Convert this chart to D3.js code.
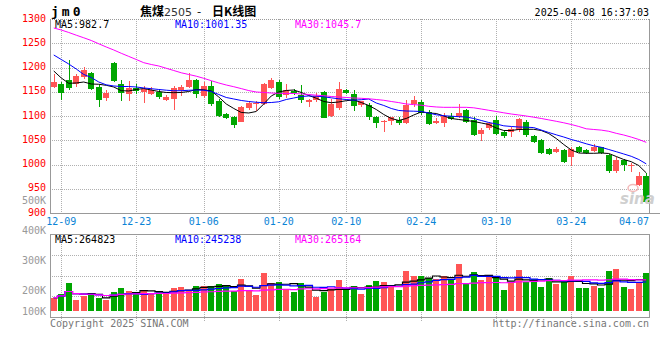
<!DOCTYPE html>
<html>
<head>
<meta charset="utf-8">
<script src="https://cdn.jsdelivr.net/npm/d3@7"></script>
<style>
  body { margin: 0; background: #fff; }
  svg { display: block; font-family: "DejaVu Sans Mono", "Liberation Mono", monospace; }
</style>
</head>
<body>
<svg id="chart" width="660" height="360"></svg>
<script>
// trading days shown on the chart
var dates = [
  "12-06", "12-09", "12-10", "12-11", "12-12", "12-13", "12-16", "12-17", "12-18", "12-19", "12-20",
  "12-23", "12-24", "12-25", "12-26", "12-27", "12-30", "12-31", "01-02", "01-03",
  "01-06", "01-07", "01-08", "01-09", "01-10", "01-13", "01-14", "01-15", "01-16", "01-17",
  "01-20", "01-21", "01-22", "01-23", "01-24", "01-27", "02-05", "02-06", "02-07",
  "02-10", "02-11", "02-12", "02-13", "02-14", "02-17", "02-18", "02-19", "02-20", "02-21",
  "02-24", "02-25", "02-26", "02-27", "02-28", "03-03", "03-04", "03-05", "03-06", "03-07",
  "03-10", "03-11", "03-12", "03-13", "03-14", "03-17", "03-18", "03-19", "03-20", "03-21",
  "03-24", "03-25", "03-26", "03-27", "03-28", "03-31", "04-01", "04-02", "04-03", "04-07", "04-08"
];

var opens = [
  1160, 1167, 1174, 1165, 1181, 1188, 1160, 1138, 1210, 1165,
  1145, 1157, 1149, 1145, 1150, 1132, 1134, 1153, 1160, 1174,
  1141, 1162, 1131, 1104, 1097, 1089, 1117, 1123, 1124, 1158,
  1170, 1143, 1152, 1143, 1129, 1132, 1150, 1100, 1116, 1154,
  1145, 1121, 1123, 1097, 1088, 1088, 1092, 1086, 1123, 1128,
  1109, 1085, 1086, 1099, 1097, 1112, 1092, 1062, 1075, 1092,
  1068, 1066, 1071, 1088, 1059, 1051, 1032, 1026, 1030, 1014,
  1037, 1030, 1028, 1036, 1020, 987, 1009, 999, 958, 976
];
var highs = [
  1186, 1170, 1215, 1187, 1201, 1190, 1163, 1153, 1212, 1175,
  1172, 1166, 1162, 1160, 1155, 1143, 1162, 1164, 1189, 1176,
  1171, 1172, 1135, 1106, 1100, 1121, 1131, 1130, 1168, 1179,
  1174, 1165, 1155, 1164, 1136, 1147, 1152, 1136, 1171, 1156,
  1154, 1131, 1126, 1099, 1092, 1097, 1097, 1132, 1141, 1134,
  1112, 1095, 1106, 1106, 1125, 1114, 1097, 1075, 1088, 1099,
  1071, 1078, 1095, 1092, 1061, 1052, 1034, 1037, 1032, 1037,
  1038, 1032, 1042, 1037, 1021, 1015, 1011, 1004, 985, 983
];
var lows = [
  1158, 1133, 1153, 1160, 1177, 1153, 1119, 1131, 1170, 1131,
  1131, 1145, 1127, 1143, 1136, 1131, 1112, 1141, 1158, 1138,
  1138, 1121, 1097, 1093, 1075, 1087, 1113, 1110, 1122, 1156,
  1136, 1138, 1144, 1126, 1119, 1129, 1095, 1098, 1112, 1146,
  1111, 1119, 1092, 1075, 1068, 1082, 1082, 1084, 1118, 1103,
  1082, 1083, 1078, 1091, 1095, 1085, 1059, 1049, 1072, 1061,
  1054, 1056, 1068, 1056, 1045, 1022, 1019, 1023, 1004, 997,
  1024, 1022, 1026, 1022, 983, 983, 987, 985, 956, 921
];
var closes = [
  1170, 1148, 1158, 1182, 1195, 1156, 1134, 1148, 1172, 1147,
  1158, 1151, 1155, 1153, 1140, 1139, 1157, 1160, 1174, 1146,
  1162, 1124, 1100, 1095, 1080, 1119, 1127, 1126, 1165, 1175,
  1139, 1153, 1147, 1132, 1134, 1141, 1097, 1125, 1155, 1148,
  1121, 1130, 1099, 1084, 1090, 1097, 1085, 1123, 1132, 1106,
  1085, 1090, 1100, 1093, 1106, 1088, 1061, 1071, 1085, 1063,
  1059, 1073, 1094, 1061, 1047, 1024, 1022, 1032, 1006, 1031,
  1026, 1024, 1037, 1024, 987, 1009, 999, 1000, 976, 923
];

// moving averages
var ma5 = [
  1192.8, 1178.4, 1167.4, 1168.1, 1170.1, 1166.0, 1165.4, 1163.3, 1159.8, 1152.2,
  1151.6, 1154.7, 1156.7, 1153.6, 1150.5, 1148.5, 1148.1, 1148.5, 1150.5, 1154.7,
  1154.0, 1151.6, 1139.2, 1124.8, 1115.5, 1107.3, 1106.2, 1109.3, 1124.8, 1141.3,
  1149.5, 1152.6, 1153.6, 1148.5, 1142.3, 1136.7, 1129.9, 1127.4, 1128.9, 1131.6,
  1133.0, 1127.8, 1121.7, 1113.4, 1103.1, 1094.9, 1090.8, 1094.9, 1102.1, 1108.3,
  1106.2, 1105.2, 1100.0, 1094.9, 1092.8, 1090.8, 1088.7, 1085.6, 1082.5, 1075.3,
  1070.1, 1070.1, 1072.2, 1072.6, 1072.6, 1070.1, 1063.9, 1053.6, 1041.2, 1029.9,
  1023.7, 1023.1, 1023.1, 1023.7, 1022.7, 1016.5, 1010.3, 1005.8, 997.9, 982.7
];
var ma10 = [
  1225.8, 1216.5, 1207.2, 1196.9, 1185.6, 1179.4, 1170.1, 1164.3, 1161.9, 1160.8,
  1160.8, 1159.8, 1157.8, 1156.3, 1154.7, 1153.2, 1152.0, 1152.2, 1153.0, 1153.6,
  1153.2, 1150.5, 1144.3, 1138.2, 1135.1, 1132.0, 1129.9, 1128.3, 1127.4, 1127.8,
  1129.3, 1134.0, 1137.1, 1140.2, 1141.3, 1140.8, 1139.6, 1137.5, 1135.5, 1134.0,
  1132.6, 1133.6, 1135.1, 1126.8, 1121.7, 1115.5, 1111.4, 1110.3, 1109.9, 1109.3,
  1106.2, 1102.5, 1100.6, 1099.6, 1098.6, 1098.0, 1094.9, 1090.8, 1086.6, 1083.5,
  1079.8, 1078.4, 1077.3, 1076.9, 1076.1, 1071.1, 1066.0, 1061.2, 1056.7, 1051.6,
  1047.4, 1042.7, 1038.5, 1035.5, 1030.9, 1026.4, 1021.7, 1016.9, 1010.3, 1001.35
];
var ma30 = [
  1281.5, 1277.3, 1272.2, 1266.6, 1261.3, 1255.7, 1248.9, 1242.3, 1236.1, 1229.3,
  1222.9, 1216.5, 1209.9, 1206.2, 1203.1, 1198.4, 1193.8, 1189.1, 1185.6, 1182.1,
  1177.7, 1172.8, 1168.1, 1163.9, 1160.4, 1156.5, 1152.4, 1149.5, 1148.5, 1147.4,
  1146.8, 1146.6, 1146.4, 1145.4, 1144.3, 1142.9, 1141.9, 1140.2, 1139.2, 1138.2,
  1137.1, 1136.5, 1135.5, 1134.0, 1132.4, 1129.9, 1127.6, 1124.8, 1123.5, 1122.3,
  1120.0, 1118.6, 1117.9, 1117.9, 1117.9, 1117.9, 1116.9, 1114.4, 1111.8, 1109.3,
  1106.6, 1104.1, 1102.1, 1100.0, 1097.5, 1094.9, 1092.0, 1089.1, 1086.0, 1082.5,
  1078.4, 1073.6, 1072.2, 1070.9, 1068.5, 1064.3, 1060.8, 1056.5, 1051.6, 1045.7
];

var volumes = [
  112700, 144000, 239700, 93000, 127000, 135500, 107600, 93000, 163500, 197000,
  172000, 150000, 178000, 155000, 163500, 144000, 197000, 206000, 178000, 212000,
  212000, 212000, 229000, 212000, 172000, 271000, 178000, 135500, 324000, 240000,
  248000, 186000, 163500, 240000, 178000, 121000, 163500, 190000, 262600, 178000,
  212000, 144000, 220000, 254000, 243000, 212000, 178000, 339000, 296000, 296000,
  282000, 271000, 296000, 268500, 398000, 240000, 328000, 262600, 285000, 296000,
  178000, 248000, 347000, 248000, 271000, 206000, 282000, 229000, 243000, 299000,
  197000, 197000, 212000, 197000, 339000, 356000, 206000, 186000, 243000, 324000
];

var priceTicks = [1300, 1250, 1200, 1150, 1100, 1050, 1000, 950, 900];
var volTickLabels = ["500K", "400K", "300K", "200K", "100K"];
var labelDates = ["12-09", "12-23", "01-06", "01-20", "02-10", "02-24", "03-10", "03-24", "04-07"];
var priceLegend = ["MA5:982.7", "MA10:1001.35", "MA30:1045.7"];
var volLegend = ["MA5:264823", "MA10:245238", "MA30:265164"];

var UP = "#ff5555", DOWN = "#00a600";
var MA_COLORS = ["#000000", "#0000ff", "#ff00ff"];
var FRAME = "#999999", GRID = "#b0b0b0";

var plot = { left: 50, right: 650, top: 19, bottom: 213 };
var vol = { top: 234, bottom: 317, base: 311 };

var svg = d3.select("#chart");

var x = d3.scaleBand().domain(dates).range([plot.left, plot.right]);
var step = x.step();
var bodyW = Math.round(step * 0.8);
function cx(d) { return x(d) + step / 2; }

var y = d3.scaleLinear().domain([900, 1300]).range([plot.bottom, plot.top]);
var yVol = d3.scaleLinear().domain([0, 400000]).range([vol.base, vol.base - 47.2]);
// the K labels of the volume panel sit on their own spacing in the original
var yVolLabel = d3.scaleLinear().domain([5, 2]).range([200, 290.5]);

var g = svg.append("g").attr("shape-rendering", "crispEdges");

// grid
priceTicks.filter(function (t) { return t > 900 && t < 1300; }).forEach(function (t) {
  g.append("line")
    .attr("x1", plot.left).attr("x2", plot.right - 1)
    .attr("y1", Math.round(y(t)) + 0.5).attr("y2", Math.round(y(t)) + 0.5)
    .attr("stroke", GRID).attr("stroke-dasharray", "1,1");
});
[1, 2, 3].forEach(function (k) {
  var yy = Math.round(vol.top + (vol.bottom - vol.top) * k / 4) + 0.5;
  g.append("line")
    .attr("x1", plot.left).attr("x2", plot.right - 1)
    .attr("y1", yy).attr("y2", yy)
    .attr("stroke", GRID).attr("stroke-dasharray", "1,1");
});
labelDates.slice(0, -1).forEach(function (d) {
  var xx = Math.round(cx(d)) + 0.5;
  g.append("line").attr("x1", xx).attr("x2", xx)
    .attr("y1", plot.top).attr("y2", plot.bottom)
    .attr("stroke", GRID).attr("stroke-dasharray", "1,1");
  g.append("line").attr("x1", xx).attr("x2", xx)
    .attr("y1", vol.top).attr("y2", vol.bottom + 4)
    .attr("stroke", GRID).attr("stroke-dasharray", "1,1");
});

// frames
g.append("line").attr("x1", plot.left + 0.5).attr("x2", plot.left + 0.5)
  .attr("y1", plot.top).attr("y2", plot.bottom).attr("stroke", FRAME);
g.append("line").attr("x1", plot.right - 0.5).attr("x2", plot.right - 0.5)
  .attr("y1", plot.top).attr("y2", plot.bottom).attr("stroke", FRAME);
g.append("line").attr("x1", plot.left).attr("x2", plot.right)
  .attr("y1", plot.top + 0.5).attr("y2", plot.top + 0.5)
  .attr("stroke", FRAME).attr("stroke-dasharray", "1,1");
g.append("line").attr("x1", plot.left).attr("x2", 660)
  .attr("y1", plot.bottom + 0.5).attr("y2", plot.bottom + 0.5).attr("stroke", FRAME);
g.append("rect")
  .attr("x", plot.left + 0.5).attr("y", vol.top + 0.5)
  .attr("width", plot.right - plot.left - 1).attr("height", vol.bottom - vol.top)
  .attr("fill", "none").attr("stroke", FRAME);

// candles
var candles = g.append("g").selectAll("g")
  .data(dates)
  .join("g")
  .attr("fill", function (d, i) { return closes[i] >= opens[i] ? UP : DOWN; })
  .attr("stroke", function (d, i) { return closes[i] >= opens[i] ? UP : DOWN; });

candles.append("line")
  .attr("x1", function (d) { return Math.round(cx(d)) + 0.5; })
  .attr("x2", function (d) { return Math.round(cx(d)) + 0.5; })
  .attr("y1", function (d, i) { return Math.round(y(highs[i])); })
  .attr("y2", function (d, i) { return Math.round(y(lows[i])); });

candles.append("rect")
  .attr("stroke", "none")
  .attr("x", function (d) { return Math.round(cx(d) - bodyW / 2); })
  .attr("y", function (d, i) { return Math.round(y(Math.max(opens[i], closes[i]))); })
  .attr("width", bodyW)
  .attr("height", function (d, i) {
    return Math.max(1, Math.round(Math.abs(y(opens[i]) - y(closes[i]))));
  });

// volume bars
g.append("g").selectAll("rect")
  .data(volumes)
  .join("rect")
  .attr("x", function (v, i) { return Math.round(cx(dates[i]) - bodyW / 2); })
  .attr("y", function (v) { return Math.round(yVol(v)); })
  .attr("width", bodyW)
  .attr("height", function (v) { return vol.base - Math.round(yVol(v)); })
  .attr("fill", function (v, i) { return closes[i] >= opens[i] ? UP : DOWN; });

// moving average lines
var priceLine = d3.line()
  .x(function (d, i) { return cx(dates[i]); })
  .y(function (d) { return y(d); });

[ma5, ma10, ma30].forEach(function (s, k) {
  svg.append("path").datum(s)
    .attr("d", priceLine)
    .attr("fill", "none")
    .attr("stroke", MA_COLORS[k])
    .attr("stroke-width", 1);
});

function movingAvg(arr, n) {
  return arr.map(function (v, i) {
    return d3.mean(arr.slice(Math.max(0, i - n + 1), i + 1));
  });
}
var volLine = d3.line()
  .x(function (d, i) { return cx(dates[i]); })
  .y(function (d) { return yVol(d); })
  .curve(d3.curveStep);

[5, 10, 30].forEach(function (n, k) {
  svg.append("path").datum(movingAvg(volumes, n))
    .attr("d", volLine)
    .attr("fill", "none")
    .attr("stroke", MA_COLORS[k])
    .attr("stroke-width", 1.2);
});

// texts
var txt = svg.append("g").attr("font-size", 10);

priceTicks.forEach(function (t) {
  txt.append("text")
    .attr("x", 46).attr("y", y(t) + 2.5)
    .attr("text-anchor", "end").attr("fill", "#ff0000")
    .text(t);
});
volTickLabels.forEach(function (l, k) {
  txt.append("text")
    .attr("x", 46).attr("y", Math.min(vol.base, yVolLabel(5 - k)) + 3.5)
    .attr("text-anchor", "end").attr("fill", "#999")
    .text(l);
});
labelDates.forEach(function (d, k) {
  var last = k === labelDates.length - 1;
  txt.append("text")
    .attr("x", last ? plot.right - 1 : cx(d))
    .attr("y", 225)
    .attr("text-anchor", last ? "end" : "middle")
    .attr("fill", "#0a84d6")
    .text(d);
});

[55, 175, 295].forEach(function (xx, k) {
  txt.append("text").attr("x", xx).attr("y", 27.5)
    .attr("fill", MA_COLORS[k]).text(priceLegend[k]);
  txt.append("text").attr("x", xx).attr("y", 242.5)
    .attr("fill", MA_COLORS[k]).text(volLegend[k]);
});

txt.append("text").attr("x", 51).attr("y", 16)
  .attr("font-size", 13).attr("font-weight", "bold")
  .attr("letter-spacing", 3).text("jm0");

// title pieces, spaced like the original header
var title = txt.append("text").attr("y", 16)
  .attr("font-family", "'Noto Sans CJK SC', sans-serif")
  .attr("font-size", 12).attr("fill", "#000");
title.append("tspan").attr("x", 140).attr("font-weight", "bold").text("焦煤");
title.append("tspan").attr("font-family", "'DejaVu Sans', sans-serif")
  .attr("font-size", 11).attr("fill", "#333").text("2505");
title.append("tspan").attr("x", 197).text("-");
title.append("tspan").attr("x", 212).attr("font-weight", "bold").text("日K线图");

txt.append("text").attr("x", 649).attr("y", 16)
  .attr("text-anchor", "end").attr("fill", "#000")
  .text("2025-04-08 16:37:03");

txt.append("text").attr("x", 50).attr("y", 327)
  .attr("fill", "#777").text("Copyright 2025 SINA.COM");
txt.append("text").attr("x", 649).attr("y", 327)
  .attr("text-anchor", "end").attr("fill", "#777")
  .text("http://finance.sina.com.cn");

// sina watermark
svg.append("ellipse").attr("cx", 633).attr("cy", 188).attr("rx", 5).attr("ry", 3.5)
  .attr("fill", "none").attr("stroke", "#f2b8b8").attr("stroke-width", 1.5);
svg.append("text").attr("x", 620).attr("y", 204)
  .attr("font-family", "'DejaVu Sans', sans-serif")
  .attr("font-size", 15).attr("font-weight", "bold").attr("font-style", "italic")
  .attr("fill", "#cfcfcf").text("sina");
</script>
</body>
</html>
